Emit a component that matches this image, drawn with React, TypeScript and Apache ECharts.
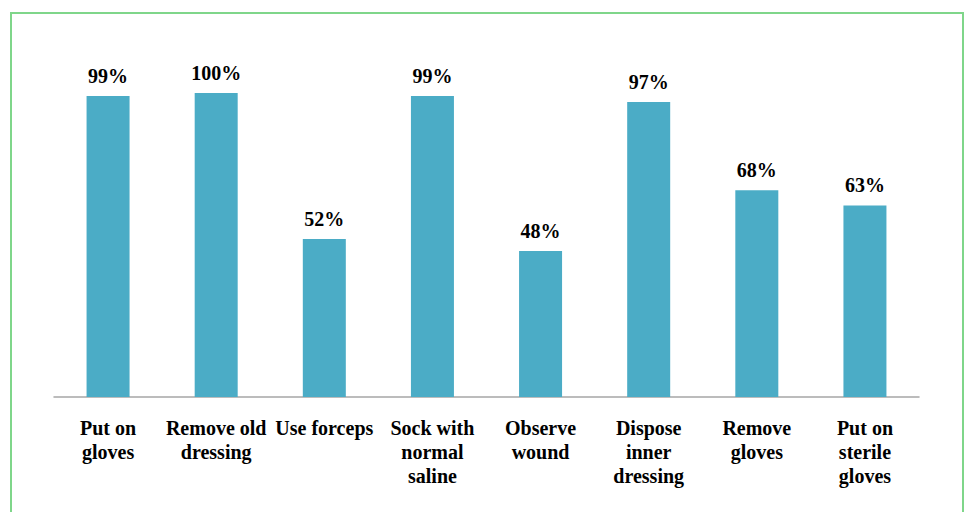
import React, { useEffect, useRef } from "react";
import * as echarts from "echarts";

const categories = [
  "Put on\ngloves",
  "Remove old\ndressing",
  "Use forceps",
  "Sock with\nnormal\nsaline",
  "Observe\nwound",
  "Dispose\ninner\ndressing",
  "Remove\ngloves",
  "Put on\nsterile\ngloves",
];
const values = [99, 100, 52, 99, 48, 97, 68, 63];

export default function App() {
  const ref = useRef<HTMLDivElement>(null);
  useEffect(() => {
    document.body.style.margin = "0";
    const chart = echarts.init(ref.current!, null, { renderer: "svg" });
    const font = '"Liberation Serif", "Times New Roman", serif';
    chart.setOption({
      animation: false,
      backgroundColor: "#ffffff",
      graphic: [
        {
          type: "rect",
          shape: { x: 11, y: 13, width: 952, height: 530 },
          style: { fill: "none", stroke: "#7fd68a", lineWidth: 2 },
          silent: true,
        },
      ],
      grid: { left: 54, right: 46, top: 93, bottom: 115, containLabel: false },
      xAxis: {
        type: "category",
        data: categories,
        axisLine: { lineStyle: { color: "#a6a6a6", width: 1.5 } },
        axisTick: { show: false },
        axisLabel: {
          interval: 0,
          margin: 19,
          color: "#000",
          fontFamily: font,
          fontWeight: "bold",
          fontSize: 20,
          lineHeight: 24,
        },
      },
      yAxis: {
        type: "value",
        min: 0,
        max: 100,
        show: false,
        splitLine: { show: false },
      },
      series: [
        {
          type: "bar",
          data: values,
          barWidth: 43,
          itemStyle: { color: "#4bacc6" },
          label: {
            show: true,
            position: "top",
            distance: 10,
            formatter: "{c}%",
            color: "#000",
            fontFamily: font,
            fontWeight: "bold",
            fontSize: 20,
          },
        },
      ],
    });
    return () => chart.dispose();
  }, []);
  return <div ref={ref} style={{ position: "absolute", left: 0, top: 0, width: 965, height: 512 }} />;
}
